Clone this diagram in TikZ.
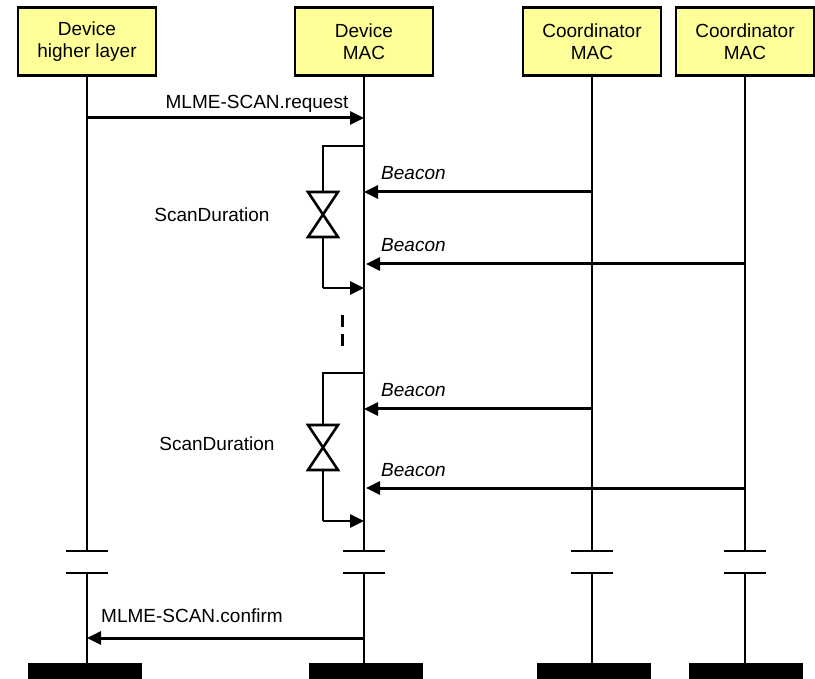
\documentclass[tikz,border=0pt]{standalone}
\usepackage{fontspec}
\setmainfont{Liberation Sans}
\usetikzlibrary{arrows.meta}
\definecolor{boxyellow}{HTML}{FFFF99}
\begin{document}
\begin{tikzpicture}[x=1pt,y=-1pt,
  lbl/.style={font=\fontsize{19}{22}\selectfont, inner sep=0pt},
  entity/.style={draw, line width=2.8pt, fill=boxyellow, minimum width=138pt, minimum height=68pt, align=center, font=\fontsize{19}{22}\selectfont, inner sep=0pt},
  life/.style={line width=2.3pt},
  msg/.style={line width=3pt, -{Triangle[length=14pt,width=13pt]}},
  brk/.style={line width=2.6pt},
  bar/.style={fill=black, minimum width=114pt, minimum height=16pt, inner sep=0pt},
  hg/.style={line width=2.6pt, line join=miter},
  tick/.style={line width=2.6pt},
]
\useasboundingbox (0,0) rectangle (815,679);

% entities
\node[entity] (e1) at (87,41.5) {Device\\higher layer};
\node[entity] (e2) at (364,41.5) {Device\\MAC};
\node[entity] (e3) at (592,41.5) {Coordinator\\MAC};
\node[entity] (e4) at (745,41.5) {Coordinator\\MAC};

% bottom bars
\node[bar] (b1) at (85,671) {};
\node[bar] (b2) at (366,671) {};
\node[bar] (b3) at (594,671) {};
\node[bar] (b4) at (746,671) {};

% break coordinates
\foreach \i/\x in {1/87,2/364,3/592,4/745}{
  \coordinate (u\i) at (\x,551);
  \coordinate (l\i) at (\x,573);
  \coordinate (ul\i) at (\x-21,551);
  \coordinate (ur\i) at (\x+21,551);
  \coordinate (ll\i) at (\x-21,573);
  \coordinate (lr\i) at (\x+21,573);
}
% lifelines
\draw[life] (e1.south) -- (u1);
\draw[life] (e2.south) -- (u2);
\draw[life] (e3.south) -- (u3);
\draw[life] (e4.south) -- (u4);
\draw[life] (l1) -- (b1.north -| l1);
\draw[life] (l2) -- (b2.north -| l2);
\draw[life] (l3) -- (b3.north -| l3);
\draw[life] (l4) -- (b4.north -| l4);
\foreach \i in {1,2,3,4}{
  \draw[tick] (ul\i) -- (ur\i);
  \draw[tick] (ll\i) -- (lr\i);
}

% request
\coordinate (rq1) at (87,118);
\coordinate (rq2) at (364,118);
\draw[msg] (rq1) -- (rq2);
\node[lbl, anchor=base] (rql) at (257,109) {MLME-SCAN.request};

% beacons
\coordinate (c3a) at (592,192); \coordinate (d2a) at (364,192);
\coordinate (c4a) at (745,264); \coordinate (d2b) at (366,264);
\coordinate (c3b) at (592,409); \coordinate (d2c) at (364,409);
\coordinate (c4b) at (745,488); \coordinate (d2d) at (366,488);
\draw[msg] (c3a) -- (d2a);
\draw[msg] (c4a) -- (d2b);
\draw[msg] (c3b) -- (d2c);
\draw[msg] (c4b) -- (d2d);
\node[lbl, anchor=base west, font=\fontsize{19}{22}\selectfont\itshape] (bl1) at (381,180) {Beacon};
\node[lbl, anchor=base west, font=\fontsize{19}{22}\selectfont\itshape] (bl2) at (381,252) {Beacon};
\node[lbl, anchor=base west, font=\fontsize{19}{22}\selectfont\itshape] (bl3) at (381,397) {Beacon};
\node[lbl, anchor=base west, font=\fontsize{19}{22}\selectfont\itshape] (bl4) at (381,476) {Beacon};

% scan duration bracket 1
\coordinate (s1t) at (364,146);
\coordinate (s1a) at (323,146);
\coordinate (s1b) at (323,192);
\coordinate (s1c) at (323,237);
\coordinate (s1d) at (323,288);
\coordinate (s1e) at (364,288);
\draw[brk] (s1t) -- (s1a) -- (s1b);
\draw[hg] (308,192) -- (338,192) -- (308,237) -- (338,237) -- cycle;
\draw[brk] (s1c) -- (s1d);
\draw[msg, line width=2.6pt] (s1d) -- (s1e);
\node[lbl, anchor=base] (sd1) at (212,222) {ScanDuration};

% dashes
\draw[line width=3pt] (342,315) -- (342,327);
\draw[line width=3pt] (342,334) -- (342,346);

% scan duration bracket 2
\coordinate (s2t) at (364,373);
\coordinate (s2a) at (323,373);
\coordinate (s2b) at (323,425);
\coordinate (s2c) at (323,470);
\coordinate (s2d) at (323,521);
\coordinate (s2e) at (364,521);
\draw[brk] (s2t) -- (s2a) -- (s2b);
\draw[hg] (308,425) -- (338,425) -- (308,470) -- (338,470) -- cycle;
\draw[brk] (s2c) -- (s2d);
\draw[msg, line width=2.6pt] (s2d) -- (s2e);
\node[lbl, anchor=base] (sd2) at (217,450) {ScanDuration};

% confirm
\coordinate (cf1) at (364,638);
\coordinate (cf2) at (87,638);
\draw[msg] (cf1) -- (cf2);
\node[lbl, anchor=base west] (cfl) at (101,622) {MLME-SCAN.confirm};
\end{tikzpicture}
\end{document}
